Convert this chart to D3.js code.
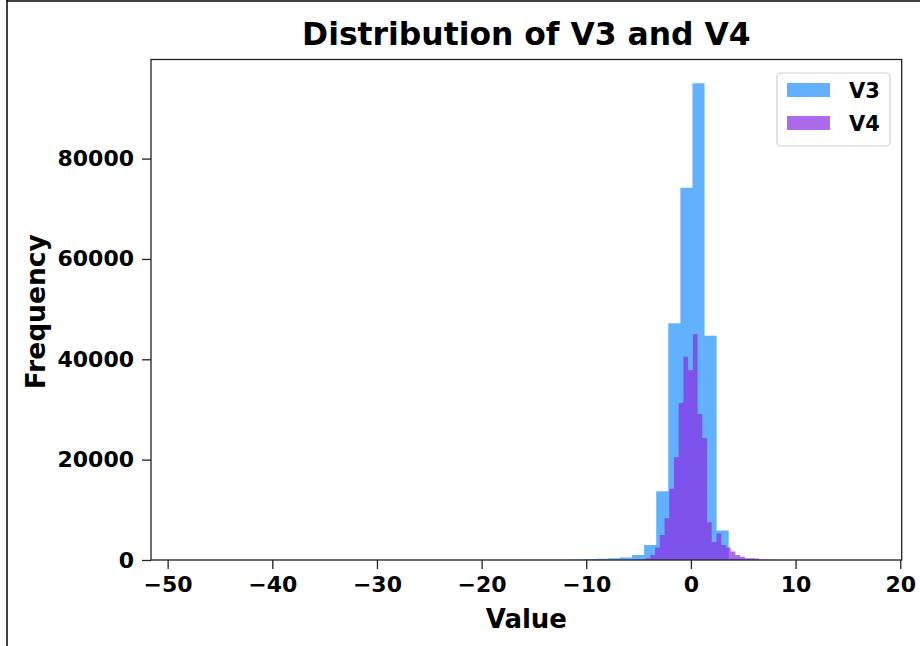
<!DOCTYPE html>
<html>
<head>
<meta charset="utf-8">
<script src="https://cdn.jsdelivr.net/npm/d3@7"></script>
<style>
  body { margin: 0; background: #fff; }
  svg text { font-family: "DejaVu Sans", sans-serif; font-weight: bold; }
</style>
</head>
<body>
<div class="chart"></div>
<script>
//DATA **********************************************************************
// 50 bins each, counts
const v3Range = [-48.33, 9.38];
const v3Counts = [1, 0, 0, 0, 1, 0, 0, 0, 1, 0, 1, 0, 1, 2, 1, 2, 3, 2, 4, 3,
  5, 6, 8, 10, 12, 14, 18, 22, 28, 36, 45, 60, 80, 200, 250, 350, 500, 1000, 3000, 13700,
  47200, 74200, 95000, 44700, 5900, 250, 60, 15, 5, 2];
const v4Range = [-5.68, 16.88];
const v4Counts = [60, 100, 150, 350, 1000, 2500, 5000, 8300, 14200, 20500,
  31300, 40500, 37800, 45000, 29100, 24300, 7500, 3600, 5300, 3000,
  2500, 1700, 1000, 660, 350, 330, 300, 120, 80, 60,
  40, 30, 25, 20, 15, 12, 10, 8, 6, 5,
  4, 3, 2, 2, 1, 1, 1, 0, 0, 1];
const seriesNames = ["V3", "V4"];
const xTicks = [-50, -40, -30, -20, -10, 0, 10, 20];
const yTicks = [0, 20000, 40000, 60000, 80000];

//turn counts into bins with edges
function toBins(range, counts) {
  const w = (range[1] - range[0]) / counts.length;
  return counts.map((c, i) => ({ x0: range[0] + i * w, x1: range[0] + (i + 1) * w, count: c }));
}
const v3Bins = toBins(v3Range, v3Counts);
const v4Bins = toBins(v4Range, v4Counts);

//CHART LAYOUT ***************************************************************
const W = 920, H = 646;
const m = { left: 151, right: 901.7, top: 59.5, bottom: 560 };

const svg = d3.select(".chart").append("svg")
  .attr("width", W).attr("height", H);

//the screenshot frame (left + top line)
svg.append("line").attr("x1", 7).attr("x2", 7).attr("y1", 0).attr("y2", H)
  .attr("stroke", "#000").attr("stroke-width", 1.5);
svg.append("line").attr("x1", 7).attr("x2", W).attr("y1", 1).attr("y2", 1)
  .attr("stroke", "#000").attr("stroke-width", 1.5);

//SCALES (matplotlib style 5% margins on x, 5% headroom on y)
const xmin = Math.min(v3Range[0], v4Range[0]), xmax = Math.max(v3Range[1], v4Range[1]);
const pad = (xmax - xmin) * 0.05;
const xScale = d3.scaleLinear().domain([xmin - pad, xmax + pad]).range([m.left, m.right]);
const ymax = d3.max(v3Counts.concat(v4Counts)) * 1.05;
const yScale = d3.scaleLinear().domain([0, ymax]).range([m.bottom, m.top]);

//BARS ***********************************************************************
// one step-shaped area per series, so no seams show between bins
const colors = { V3: "#1e90ff", V4: "#8a2be2" };
const histArea = d3.area()
  .curve(d3.curveStepAfter)
  .x(d => xScale(d.x))
  .y0(yScale(0))
  .y1(d => yScale(d.count));

function drawHist(bins, color) {
  const pts = bins.map(b => ({ x: b.x0, count: b.count }));
  pts.push({ x: bins[bins.length - 1].x1, count: bins[bins.length - 1].count });
  svg.append("path")
    .datum(pts)
    .attr("d", histArea)
    .attr("fill", color)
    .attr("fill-opacity", 0.7);
}
drawHist(v3Bins, colors.V3);
drawHist(v4Bins, colors.V4);

//AXES ***********************************************************************
const xAxis = d3.axisBottom(xScale).tickValues(xTicks).tickSize(9).tickPadding(7)
  .tickFormat(d => d < 0 ? "\u2212" + Math.abs(d) : d);
const gx = svg.append("g").attr("transform", `translate(0, ${m.bottom})`).call(xAxis);

const yAxis = d3.axisLeft(yScale).tickValues(yTicks).tickSize(9).tickPadding(8)
  .tickFormat(d3.format("d"));
const gy = svg.append("g").attr("transform", `translate(${m.left}, 0)`).call(yAxis);

[gx, gy].forEach(g => {
  g.select(".domain").remove();
  g.selectAll("line").attr("stroke", "#222").attr("stroke-width", 1.3);
  g.selectAll("text").attr("fill", "#000").style("font-size", "22px")
    .style("font-family", "DejaVu Sans").style("font-weight", "bold");
});

//frame of the axes
svg.append("rect")
  .attr("x", m.left).attr("y", m.top)
  .attr("width", m.right - m.left).attr("height", m.bottom - m.top)
  .attr("fill", "none").attr("stroke", "#222").attr("stroke-width", 1.3);

//TEXTS **********************************************************************
svg.append("text").attr("x", (m.left + m.right) / 2).attr("y", 45)
  .attr("text-anchor", "middle").style("font-size", "31.4px")
  .text("Distribution of V3 and V4");
svg.append("text").attr("x", (m.left + m.right) / 2).attr("y", 628)
  .attr("text-anchor", "middle").style("font-size", "26px")
  .text("Value");
svg.append("text").attr("transform", `translate(45, ${(m.top + m.bottom) / 2 + 2}) rotate(-90)`)
  .attr("text-anchor", "middle").style("font-size", "26.5px")
  .text("Frequency");

//LEGEND *********************************************************************
const legend = svg.append("g");
legend.append("rect")
  .attr("x", 777).attr("y", 73).attr("width", 113).attr("height", 73)
  .attr("rx", 4).attr("fill", "#fff").attr("fill-opacity", 0.8)
  .attr("stroke", "#d0d0d0").attr("stroke-width", 1.2);
seriesNames.forEach((name, i) => {
  const y = 83 + i * 33;
  legend.append("rect").attr("x", 787).attr("y", y).attr("width", 43).attr("height", 14)
    .attr("fill", colors[name]).attr("fill-opacity", 0.7);
  legend.append("text").attr("x", 849).attr("y", y + 14.5)
    .style("font-size", "21px").text(name);
});
</script>
</body>
</html>
